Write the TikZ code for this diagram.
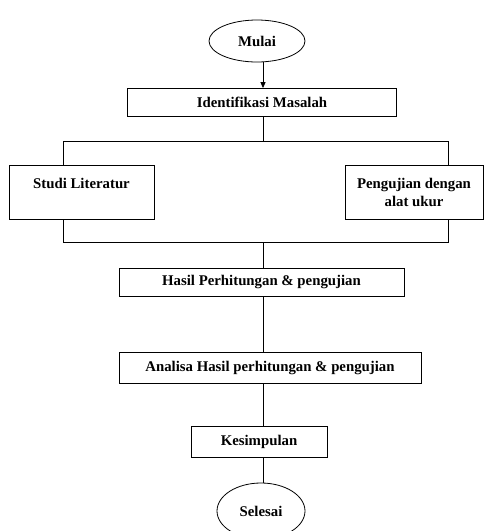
\documentclass[tikz,border=0pt]{standalone}
\usepackage{fontspec}
\setmainfont{Liberation Serif}
\usetikzlibrary{arrows.meta,positioning,shapes.geometric}

\tikzset{
	stepbox/.style={draw,line width=0.8pt,inner sep=0pt,align=center,
		font=\fontsize{14.8}{18}\selectfont\bfseries},
	terminal/.style={stepbox,ellipse},
	flow/.style={line width=0.8pt}
}

\begin{document}
\begin{tikzpicture}[x=1pt,y=-1pt]
		
		\useasboundingbox (0,0) rectangle (484,531);
		
		% start and first step
		\node[terminal,minimum width=96pt,minimum height=42pt] (mulai) at (257,41) {Mulai};
		\node[stepbox,minimum width=269pt,minimum height=28pt] (ident) at (262,102.5) {Identifikasi Masalah};
		
		% two parallel steps
		\node[stepbox,minimum width=145pt,minimum height=54pt] (studi) at (81.5,192) {Studi Literatur\\ \mbox{}};
		\node[stepbox,minimum width=138pt,minimum height=54pt] (uji) at (414,192) {Pengujian dengan\\alat ukur};
		
		% rest of the chain
		\node[stepbox,minimum width=285pt,minimum height=28pt] (hasil) at (261.5,282) {Hasil Perhitungan \& pengujian};
		\node[stepbox,minimum width=302pt,minimum height=31pt] (analisa) at (270,367.5) {Analisa Hasil perhitungan \& pengujian};
		\node[stepbox,minimum width=136pt,minimum height=31pt] (kesim) at (259,441.5) {Kesimpulan};
		\node[terminal,minimum width=88pt,minimum height=56pt] (selesai) at (261,511) {Selesai};
		
		\coordinate (trunk) at (263,0);
		\coordinate (splitL) at (63,141);
		\coordinate (splitR) at (448,141);
		\coordinate (joinL) at (63,242);
		\coordinate (joinR) at (448,242);
		
		\draw[flow,-{Triangle[length=6pt,width=5pt]}]
		(mulai.south -| trunk)
		--
		(ident.north -| trunk);
		
		\draw[flow]
		(ident.south -| trunk)
		--
		(splitL -| trunk);
		
		\draw[flow]
		(studi.north -| splitL)
		--
		(splitL)
		--
		(splitR)
		--
		(uji.north -| splitR);
		
		\draw[flow]
		(studi.south -| joinL)
		--
		(joinL)
		--
		(joinR)
		--
		(uji.south -| joinR);
		
		\draw[flow]
		(joinL -| trunk)
		--
		(hasil.north -| trunk);
		
		\foreach \a/\b in {hasil/analisa,analisa/kesim,kesim/selesai}
		{
			\draw[flow]
			(\a.south -| trunk)
			--
			(\b.north -| trunk);
		}
		
	\end{tikzpicture}
\end{document}
